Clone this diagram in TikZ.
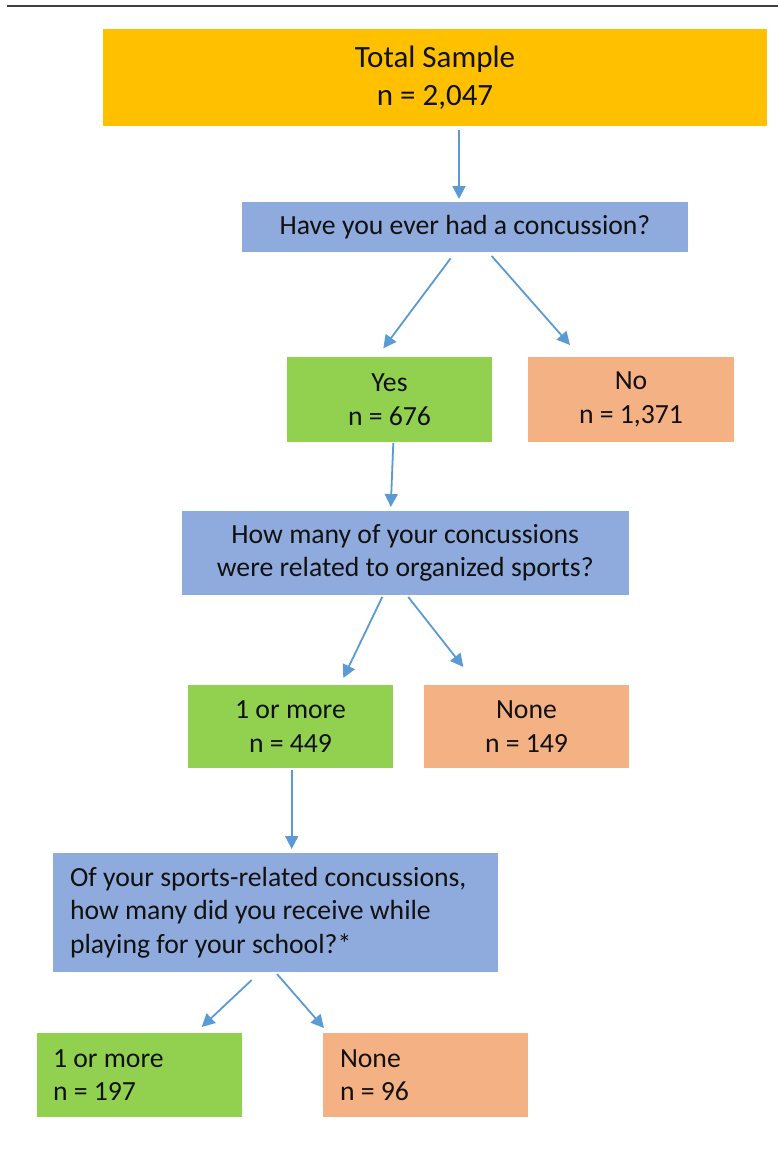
\documentclass[tikz,border=0pt]{standalone}
\usepackage{fontspec}
\setmainfont{Carlito}
\usetikzlibrary{arrows.meta,calc}
\definecolor{cTotal}{HTML}{FFC000}
\definecolor{cQ}{HTML}{8FAADC}
\definecolor{cYes}{HTML}{92D050}
\definecolor{cNo}{HTML}{F4B183}
\definecolor{cArrow}{HTML}{5B9BD5}
\definecolor{cText}{HTML}{111111}
\definecolor{cRule}{HTML}{404040}
\tikzset{
  box/.style={rectangle, inner sep=0pt, outer sep=0pt, text=cText,
    font=\fontsize{27.7}{33.5}\selectfont, align=center},
  lbox/.style={box, align=flush left},
  arr/.style={draw=cArrow, line width=1.8pt, -{Triangle[length=13pt,width=13pt]}},
}
\begin{document}
\begin{tikzpicture}[x=1pt,y=-1pt]
\useasboundingbox (0,0) rectangle (778,1153);
\fill[white] (0,0) rectangle (778,1153);
\coordinate (ruleL) at (7,6);
\coordinate (ruleR) at (778,6);
\draw[cRule, line width=2pt] (ruleL) -- (ruleR);

\node[box, fill=cTotal, minimum width=664pt, minimum height=97pt,
  font=\fontsize{31}{38}\selectfont] (total) at (435,77.5) {Total Sample\\n = 2,047};
\node[box, fill=cQ, minimum width=446pt, minimum height=50pt] (q1) at (465,227) {Have you ever had a concussion?};
\node[box, fill=cYes, minimum width=205pt, minimum height=85pt] (yes) at (389.5,399.5) {Yes\\n = 676};
\node[box, fill=cNo, minimum width=206pt, minimum height=85pt] (no) at (631,399.5) {No\\n = 1,371};
\node[box, fill=cQ, minimum width=447.5pt, minimum height=84pt] (q2) at (405.25,553) {How many of your concussions\\were related to organized sports?};
\node[box, fill=cYes, minimum width=205pt, minimum height=83pt] (more1) at (290.5,726.5) {1 or more\\n = 449};
\node[box, fill=cNo, minimum width=205pt, minimum height=83pt] (none1) at (526.5,726.5) {None\\n = 149};
\node[lbox, fill=cQ, text width=411pt, inner xsep=17pt, minimum height=119pt] (q3) at (275.5,912.5) {Of your sports-related concussions,\\how many did you receive while\\playing for your school?*};
\node[lbox, fill=cYes, text width=173pt, inner xsep=16pt, minimum height=84pt] (more2) at (139.5,1075) {1 or more\\n = 197};
\node[lbox, fill=cNo, text width=171pt, inner xsep=17pt, minimum height=84pt] (none2) at (425.5,1075) {None\\n = 96};

\draw[arr] ($(total.south)+(24,4)$) -- ($(q1.north)+(-6,-3)$);
\draw[arr] ($(q1.south)+(-14.3,6.3)$) -- ($(yes.north)+(-6.2,-8.7)$);
\draw[arr] ($(q1.south)+(26.7,4)$) -- ($(no.north)+(-61,-12)$);
\draw[arr] ($(yes.south)+(3.8,1)$) -- ($(q2.north)+(-14.5,-4)$);
\draw[arr] ($(q2.south)+(-23,2)$) -- ($(more1.north)+(52.8,-7)$);
\draw[arr] ($(q2.south)+(3,2)$) -- ($(none1.north)+(-63.2,-18)$);
\draw[arr] ($(more1.south)+(1.2,2)$) -- ($(q3.north)+(16.2,-4)$);
\draw[arr] ($(q3.south)+(-23.8,8)$) -- ($(more2.north)+(62.2,-6)$);
\draw[arr] ($(q3.south)+(1.5,2)$) -- ($(none2.north)+(-101.5,-5)$);
\end{tikzpicture}
\end{document}
